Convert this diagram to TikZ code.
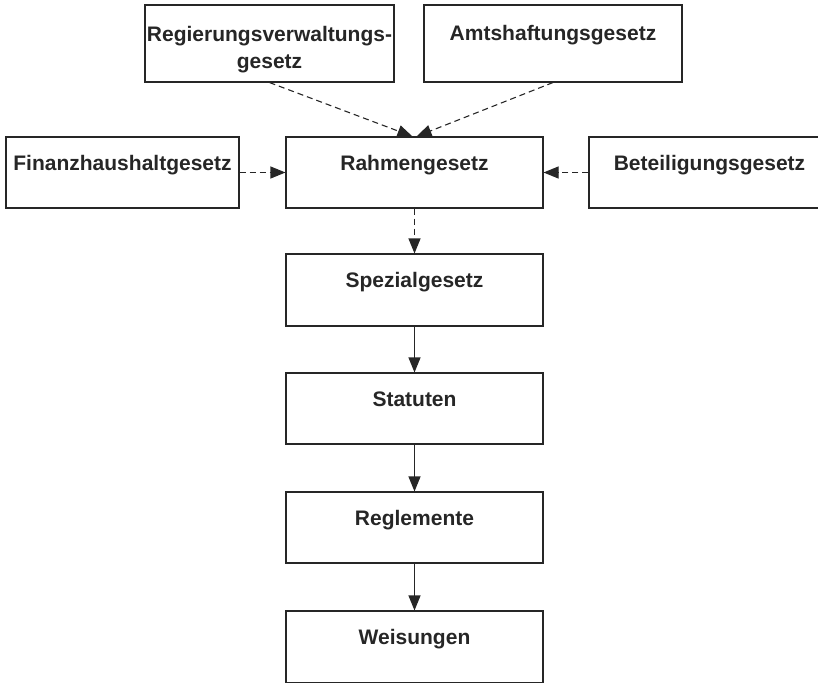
\documentclass[tikz,border=0pt]{standalone}
\usepackage{fontspec}
\setmainfont{Liberation Sans}
\usetikzlibrary{arrows.meta}

\begin{document}
\begin{tikzpicture}[x=1pt, y=-1pt,
        box/.style={draw=black!85, line width=1.1pt, inner sep=0pt, text=black!85,
            font=\fontsize{21}{27}\selectfont\bfseries, align=center},
        link/.style={draw=black!85, line width=1.1pt, -{Triangle[length=15pt,width=12pt]}},
        dlink/.style={link, dash pattern=on 6pt off 4pt}]
        \useasboundingbox (0,0) rectangle (818,682);
        \clip (0,0) rectangle (818,682);

        % upper row
        \node[box, minimum width=249pt, minimum height=77pt, text height=64pt, text depth=13pt] (regvg) at (269.5,43.5) {Regierungsverwaltungs-\\gesetz};
        \node[box, minimum width=258pt, minimum height=77pt, text height=36pt, text depth=41pt] (amtshg) at (553,43.5) {Amtshaftungsgesetz};

        % middle row
        \node[box, minimum width=233pt, minimum height=71pt, text height=33pt, text depth=38pt] (finhg) at (122.5,172.5) {Finanzhaushaltgesetz};
        \node[box, minimum width=257pt, minimum height=71pt, text height=33pt, text depth=38pt] (rahmen) at (414.5,172.5) {Rahmengesetz};
        \node[box, minimum width=241pt, minimum height=71pt, text height=33pt, text depth=38pt] (beteil) at (709.5,172.5) {Beteiligungsgesetz};

        % column
        \node[box, minimum width=257pt, minimum height=72pt, text height=33pt, text depth=39pt] (spez) at (414.5,290) {Spezialgesetz};
        \node[box, minimum width=257pt, minimum height=71pt, text height=33pt, text depth=38pt] (statut) at (414.5,408.5) {Statuten};
        \node[box, minimum width=257pt, minimum height=71pt, text height=33pt, text depth=38pt] (reglem) at (414.5,527.5) {Reglemente};
        \node[box, minimum width=257pt, minimum height=72pt, text height=33pt, text depth=39pt] (weis) at (414.5,647) {Weisungen};

        \draw[dlink] (regvg.south) -- ([xshift=-2pt]rahmen.north);
        \draw[dlink] (amtshg.south) -- ([xshift=2pt]rahmen.north);
        \draw[dlink] (finhg.east) -- (rahmen.west);
        \draw[dlink] (beteil.west) -- (rahmen.east);
        \draw[dlink] (rahmen.south) -- (spez.north);
        \draw[link] (spez.south) -- (statut.north);
        \draw[link] (statut.south) -- (reglem.north);
        \draw[link] (reglem.south) -- (weis.north);
    \end{tikzpicture}
\end{document}
